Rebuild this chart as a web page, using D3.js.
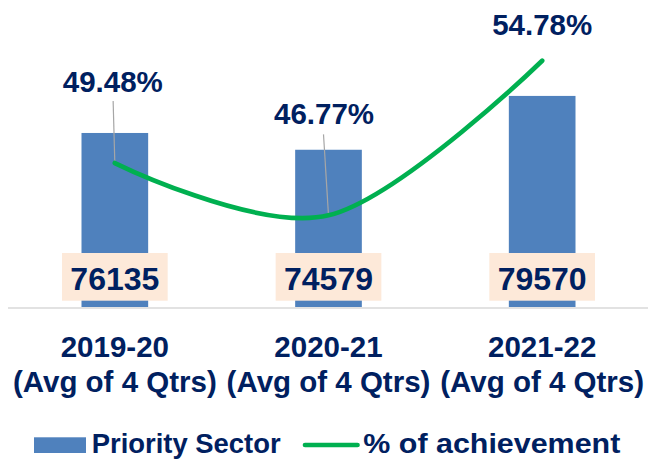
<!DOCTYPE html>
<html>
<head>
<meta charset="utf-8">
<script src="https://cdn.jsdelivr.net/npm/d3@7"></script>
<style>
  body { margin: 0; background: #fff; }
  text { font-family: "Liberation Sans", Arial, sans-serif; font-weight: bold; fill: #002060; }
</style>
</head>
<body>
<svg id="chart" width="648" height="459"></svg>
<script>
const years = ['2019-20', '2020-21', '2021-22'];
const subLabel = '(Avg of 4 Qtrs)';
const prioritySector = [76135, 74579, 79570];
const achievement = [49.48, 46.77, 54.78];

// label placement (labels were dragged by hand in the original)
const pctLabelDx = [-2, -4.5, 0];
const pctLabelDy = [-71.3, -91.7, -25.5];
const leaderDx = [-1.7, -5, null];
const leaderDy = [-62, -81, null];

const svg = d3.select('#chart');

const x = d3.scaleBand()
  .domain(years)
  .range([8, 649])
  .paddingInner(0.688)
  .paddingOuter(0.344);

const y = d3.scaleLinear()
  .domain([60000, 88000])
  .range([307, 5]);

const y2 = d3.scaleLinear()
  .domain([40, 60])
  .range([346, -40]);

const cx = d => x(d) + x.bandwidth() / 2;
const base = y(60000);

// bars
svg.selectAll('rect.bar')
  .data(prioritySector)
  .join('rect')
  .attr('class', 'bar')
  .attr('x', (d, i) => x(years[i]))
  .attr('y', d => y(d))
  .attr('width', x.bandwidth())
  .attr('height', d => base - y(d))
  .attr('fill', '#4F81BD');

// axis line
svg.append('line')
  .attr('x1', 8).attr('x2', 648)
  .attr('y1', base + 1).attr('y2', base + 1)
  .attr('stroke', '#d9d9d9')
  .attr('stroke-width', 1.5);

// bar value labels
const boxW = 105.7, boxH = 47.7;
svg.selectAll('rect.vbox')
  .data(prioritySector)
  .join('rect')
  .attr('class', 'vbox')
  .attr('x', (d, i) => cx(years[i]) - boxW / 2)
  .attr('y', base - 6.3 - boxH)
  .attr('width', boxW)
  .attr('height', boxH)
  .attr('fill', '#FDE9D9');

svg.selectAll('text.val')
  .data(prioritySector)
  .join('text')
  .attr('class', 'val')
  .attr('x', (d, i) => cx(years[i]))
  .attr('y', base - 17.3)
  .attr('text-anchor', 'middle')
  .attr('font-size', 32)
  .text(d => d);

// leader lines
svg.selectAll('line.leader')
  .data(achievement.map((d, i) => ({ d, i })).filter(o => leaderDy[o.i] !== null))
  .join('line')
  .attr('class', 'leader')
  .attr('x1', o => cx(years[o.i]) + leaderDx[o.i])
  .attr('y1', o => y2(o.d) + leaderDy[o.i])
  .attr('x2', o => cx(years[o.i]))
  .attr('y2', o => y2(o.d))
  .attr('stroke', '#a6a6a6')
  .attr('stroke-width', 1.2);

// achievement line
const line = d3.line()
  .x((d, i) => cx(years[i]))
  .y(d => y2(d))
  .curve(d3.curveCardinal.tension(0));

svg.append('path')
  .datum(achievement)
  .attr('d', line)
  .attr('fill', 'none')
  .attr('stroke', '#00B050')
  .attr('stroke-width', 4.7)
  .attr('stroke-linecap', 'round');

svg.selectAll('text.pct')
  .data(achievement)
  .join('text')
  .attr('class', 'pct')
  .attr('x', (d, i) => cx(years[i]) + pctLabelDx[i])
  .attr('y', (d, i) => y2(d) + pctLabelDy[i])
  .attr('text-anchor', 'middle')
  .attr('font-size', 29.5)
  .text(d => d.toFixed(2) + '%');

// category labels
const cat = svg.selectAll('text.cat')
  .data(years)
  .join('text')
  .attr('class', 'cat')
  .attr('text-anchor', 'middle')
  .attr('font-size', 29.5);
cat.append('tspan')
  .attr('x', d => cx(d))
  .attr('y', 357.3)
  .text(d => d);
cat.append('tspan')
  .attr('x', d => cx(d))
  .attr('y', 391.5)
  .text(subLabel);

// legend
const legend = svg.append('g');
legend.append('rect')
  .attr('x', 34).attr('y', 437.3)
  .attr('width', 52).attr('height', 15.7)
  .attr('fill', '#4F81BD');
legend.append('text')
  .attr('x', 91.7).attr('y', 453)
  .attr('font-size', 28.5)
  .attr('textLength', 189)
  .attr('lengthAdjust', 'spacingAndGlyphs')
  .text('Priority Sector');
legend.append('line')
  .attr('x1', 305).attr('x2', 357.5)
  .attr('y1', 445).attr('y2', 445)
  .attr('stroke', '#00B050')
  .attr('stroke-width', 4.7)
  .attr('stroke-linecap', 'round');
legend.append('text')
  .attr('x', 363.3).attr('y', 453)
  .attr('font-size', 28.5)
  .attr('textLength', 257)
  .attr('lengthAdjust', 'spacingAndGlyphs')
  .text('% of achievement');
</script>
</body>
</html>
